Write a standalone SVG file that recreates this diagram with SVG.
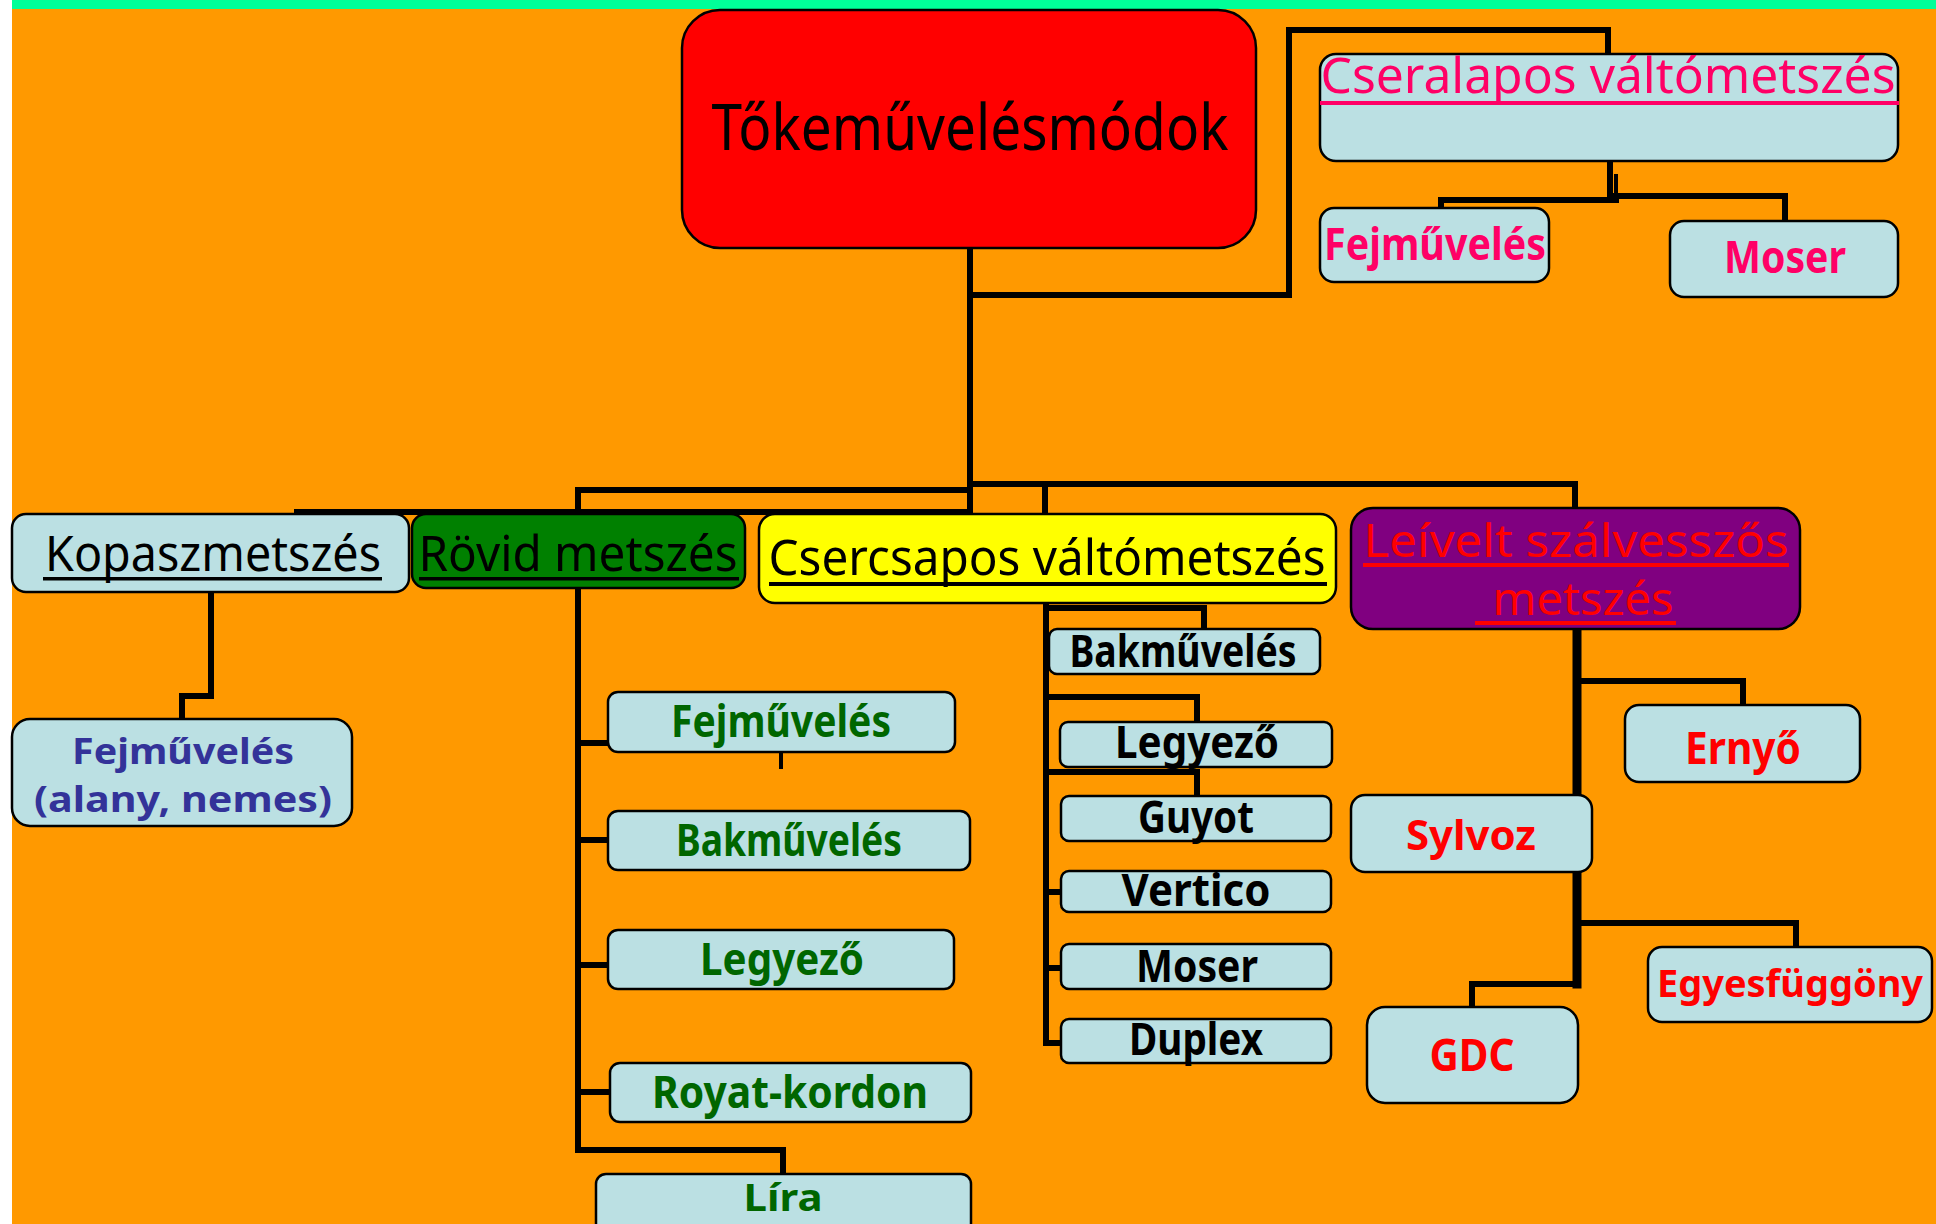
<svg xmlns="http://www.w3.org/2000/svg" width="1936" height="1224" viewBox="0 0 1936 1224">
<style>
.bx{stroke:#000;stroke-width:2.5}
.lb{fill:#BBE0E3}
.t{font-family:"Noto Sans","DejaVu Sans",sans-serif;text-anchor:middle}
.b{font-weight:bold;font-size:44px}
.n{font-size:49px}
.k{fill:#000}
.pk{fill:#FF0066}
.gr{fill:#006600}
.bl{fill:#333399}
.rd{fill:#FF0000}
.c{fill:none;stroke:#000;stroke-width:6;stroke-linejoin:miter;stroke-linecap:square}
</style>
<rect x="0" y="0" width="1936" height="1224" fill="#FFFFFF"/>
<rect x="12" y="0" width="1924" height="1224" fill="#FF9900"/>
<rect x="12" y="0" width="1924" height="9" fill="#00FF99"/>

<g id="connectors">
<path class="c" d="M970,248 V513"/>
<path class="c" d="M970,295 H1289 V30 H1608 V54"/>
<path class="c" d="M1610,161 V200"/>
<path class="c" d="M1441,208 V200 H1616"/>
<path class="c" d="M1610,196 H1785 V221"/>
<path class="c" style="stroke-width:4" d="M1616,176 V198"/>
<path class="c" d="M297,512 H970"/>
<path class="c" d="M578,512 V490 H970"/>
<path class="c" d="M970,484 H1575 V508"/>
<path class="c" d="M1045,484 V514"/>
<path class="c" d="M211,592 V696 H182 V719"/>
<path class="c" d="M578,588 V1150 H783 V1174"/>
<path class="c" d="M578,743 H608"/>
<path class="c" d="M578,840 H608"/>
<path class="c" d="M578,965 H608"/>
<path class="c" d="M578,1092 H610"/>
<path class="c" style="stroke-width:4" d="M781,752 V767"/>
<path class="c" d="M1046,603 V1043 H1061"/>
<path class="c" d="M1046,608 H1204 V629"/>
<path class="c" d="M1046,697 H1197 V722"/>
<path class="c" d="M1046,772 H1197 V796"/>
<path class="c" d="M1046,892 H1061"/>
<path class="c" d="M1046,968 H1061"/>
<path class="c" style="stroke-width:9" d="M1577,629 V984"/>
<path class="c" d="M1577,681 H1743 V705"/>
<path class="c" d="M1577,923 H1796 V947"/>
<path class="c" d="M1577,984 H1472 V1007"/>
</g>

<g id="tokemuvelesmodok">
<rect class="bx" x="682" y="10" width="574" height="238" rx="38" fill="#FF0000"/>
<text class="t k" x="970" y="150" font-size="63" textLength="517" lengthAdjust="spacingAndGlyphs">Tőkeművelésmódok</text>
</g>

<g id="cseralapos">
<rect class="bx lb" x="1320" y="54" width="578" height="107" rx="16"/>
<text class="t n pk" x="1608" y="93" textLength="575" lengthAdjust="spacingAndGlyphs">Cseralapos váltómetszés</text>
<rect x="1320" y="101" width="579" height="4" fill="#FF0066"/>
</g>
<g id="cseralapos-fejmuveles">
<rect class="bx lb" x="1320" y="208" width="229" height="74" rx="14"/>
<text class="t b pk" x="1435" y="260" textLength="222" lengthAdjust="spacingAndGlyphs">Fejművelés</text>
</g>
<g id="cseralapos-moser">
<rect class="bx lb" x="1670" y="221" width="228" height="76" rx="14"/>
<text class="t b pk" x="1785" y="273" textLength="122" lengthAdjust="spacingAndGlyphs">Moser</text>
</g>

<g id="kopaszmetszes">
<rect class="bx lb" x="12" y="514" width="397" height="78" rx="14"/>
<text class="t n k" x="213" y="571" textLength="336" lengthAdjust="spacingAndGlyphs">Kopaszmetszés</text>
<rect x="43" y="577" width="339" height="3.5" fill="#000"/>
</g>
<g id="kopasz-fejmuveles">
<rect class="bx lb" x="12" y="719" width="340" height="107" rx="18"/>
<text class="t bl" x="183" y="764" font-weight="bold" font-size="35" textLength="222" lengthAdjust="spacingAndGlyphs">Fejművelés</text>
<text class="t bl" x="183" y="812" font-weight="bold" font-size="35" textLength="298" lengthAdjust="spacingAndGlyphs">(alany, nemes)</text>
</g>

<g id="rovid">
<rect class="bx" x="412" y="514" width="333" height="74" rx="14" fill="#008000"/>
<text class="t n k" x="578" y="571" textLength="319" lengthAdjust="spacingAndGlyphs">Rövid metszés</text>
<rect x="419" y="577" width="320" height="3.5" fill="#000"/>
</g>
<g id="rovid-fejmuveles">
<rect class="bx lb" x="608" y="692" width="347" height="60" rx="10"/>
<text class="t b gr" x="781" y="737" textLength="220" lengthAdjust="spacingAndGlyphs">Fejművelés</text>
</g>
<g id="rovid-bakmuveles">
<rect class="bx lb" x="608" y="811" width="362" height="59" rx="10"/>
<text class="t b gr" x="789" y="856" textLength="226" lengthAdjust="spacingAndGlyphs">Bakművelés</text>
</g>
<g id="rovid-legyezo">
<rect class="bx lb" x="608" y="930" width="346" height="59" rx="10"/>
<text class="t b gr" x="782" y="975" textLength="164" lengthAdjust="spacingAndGlyphs">Legyező</text>
</g>
<g id="royat-kordon">
<rect class="bx lb" x="610" y="1063" width="361" height="59" rx="10"/>
<text class="t b gr" x="790" y="1108" textLength="276" lengthAdjust="spacingAndGlyphs">Royat-kordon</text>
</g>
<g id="lira">
<rect class="bx lb" x="596" y="1174" width="375" height="70" rx="10"/>
<text class="t gr" x="783" y="1211" font-weight="bold" font-size="38" textLength="79" lengthAdjust="spacingAndGlyphs">Líra</text>
</g>

<g id="csercsapos">
<rect class="bx" x="759" y="514" width="577" height="89" rx="16" fill="#FFFF00"/>
<text class="t n k" x="1047" y="575" textLength="557" lengthAdjust="spacingAndGlyphs">Csercsapos váltómetszés</text>
<rect x="769" y="582" width="558" height="4" fill="#000"/>
</g>
<g id="cs-bakmuveles">
<rect class="bx lb" x="1049" y="629" width="271" height="45" rx="8"/>
<text class="t b k" x="1183" y="667" font-size="42" textLength="227" lengthAdjust="spacingAndGlyphs">Bakművelés</text>
</g>
<g id="cs-legyezo">
<rect class="bx lb" x="1060" y="722" width="272" height="45" rx="8"/>
<text class="t b k" x="1197" y="758" font-size="42" textLength="164" lengthAdjust="spacingAndGlyphs">Legyező</text>
</g>
<g id="cs-guyot">
<rect class="bx lb" x="1061" y="796" width="270" height="45" rx="8"/>
<text class="t b k" x="1196" y="833" font-size="42" textLength="116" lengthAdjust="spacingAndGlyphs">Guyot</text>
</g>
<g id="cs-vertico">
<rect class="bx lb" x="1061" y="871" width="270" height="41" rx="8"/>
<text class="t b k" x="1196" y="906" font-size="42" textLength="149" lengthAdjust="spacingAndGlyphs">Vertico</text>
</g>
<g id="cs-moser">
<rect class="bx lb" x="1061" y="944" width="270" height="45" rx="8"/>
<text class="t b k" x="1197" y="982" font-size="42" textLength="122" lengthAdjust="spacingAndGlyphs">Moser</text>
</g>
<g id="cs-duplex">
<rect class="bx lb" x="1061" y="1019" width="270" height="44" rx="8"/>
<text class="t b k" x="1196" y="1055" font-size="42" textLength="134" lengthAdjust="spacingAndGlyphs">Duplex</text>
</g>

<g id="leivelt">
<rect class="bx" x="1351" y="508" width="449" height="121" rx="22" fill="#800080"/>
<text class="t rd" x="1576" y="557" font-size="45" textLength="425" lengthAdjust="spacingAndGlyphs">Leívelt szálvesszős</text>
<rect x="1363" y="563" width="426" height="4" fill="#FF0000"/>
<text class="t rd" x="1583" y="615" font-size="45" textLength="181" lengthAdjust="spacingAndGlyphs">metszés</text>
<rect x="1475" y="621" width="201" height="4" fill="#FF0000"/>
</g>
<g id="ernyo">
<rect class="bx lb" x="1625" y="705" width="235" height="77" rx="14"/>
<text class="t b rd" x="1743" y="764" textLength="116" lengthAdjust="spacingAndGlyphs">Ernyő</text>
</g>
<g id="sylvoz">
<rect class="bx lb" x="1351" y="795" width="241" height="77" rx="14"/>
<text class="t rd" x="1471" y="850" font-weight="bold" font-size="42" textLength="130" lengthAdjust="spacingAndGlyphs">Sylvoz</text>
</g>
<g id="egyesfuggony">
<rect class="bx lb" x="1648" y="947" width="284" height="75" rx="14"/>
<text class="t rd" x="1790" y="997" font-weight="bold" font-size="38" textLength="266" lengthAdjust="spacingAndGlyphs">Egyesfüggöny</text>
</g>
<g id="gdc">
<rect class="bx lb" x="1367" y="1007" width="211" height="96" rx="18"/>
<text class="t b rd" x="1472" y="1071" textLength="85" lengthAdjust="spacingAndGlyphs">GDC</text>
</g>
</svg>
